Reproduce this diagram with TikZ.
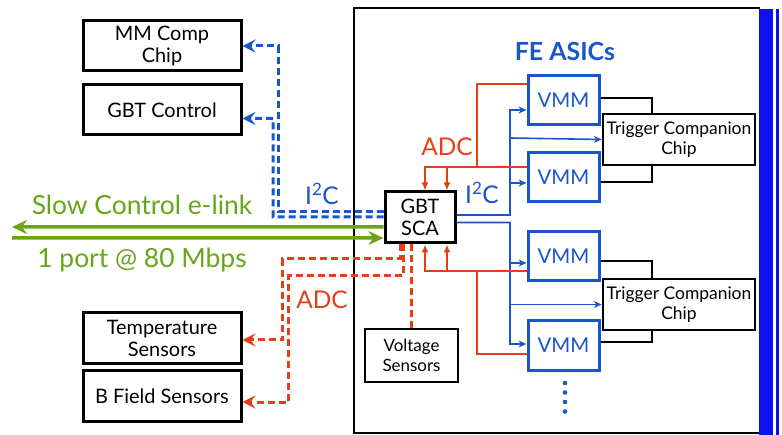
\documentclass[tikz,border=0pt]{standalone}
\usepackage{fontspec}
\setmainfont{Lato}
\usetikzlibrary{arrows.meta}
\definecolor{fblue}{RGB}{25,85,205}
\definecolor{fred}{RGB}{232,62,22}
\definecolor{fgreen}{RGB}{105,165,25}
\definecolor{fbar}{RGB}{15,15,240}
\begin{document}
\begin{tikzpicture}[x=1bp, y=-1bp,
  box/.style={draw, line width=3bp, align=center, inner sep=0pt,
    minimum width=158bp, minimum height=50bp, font=\fontsize{20}{22}\selectfont},
  vmm/.style={draw=fblue, line width=3bp, text=fblue, inner sep=0pt,
    minimum width=71bp, minimum height=49bp, font=\fontsize{20.5}{22}\selectfont},
  tcc/.style={draw, line width=2.5bp, align=center, inner sep=0pt,
    minimum width=152bp, minimum height=51bp, font=\fontsize{17.5}{20}\selectfont},
  link/.style={line width=2.2bp},
  i2c/.style={fblue, line width=1.6bp, -{Stealth[length=8bp,width=7bp]}},
  adc/.style={fred, line width=1.6bp, -{Latex[length=8bp,width=7bp]}},
  i2cd/.style={fblue, line width=3bp, dash pattern=on 7bp off 4bp,
    -{Stealth[length=13bp,width=13bp,inset=5bp]}},
  adcd/.style={fred, line width=3bp, dash pattern=on 7bp off 4bp,
    -{Stealth[length=13bp,width=13bp,inset=5bp]}},
  elink/.style={fgreen, line width=3.5bp, -{Stealth[length=15bp,width=14bp,inset=5bp]}},
  lbl/.style={font=\fontsize{24.5}{26}\selectfont}]
\useasboundingbox (0,0) rectangle (782,435);
% front-end board
\draw[line width=2.5bp] (760,8) -- (354,8) -- (354,433) -- (760,433);
\fill[fbar] (759,9) rectangle (773,435);
\draw[fbar, line width=3bp] (777.5,9) -- (777.5,435);
\node[fblue, font=\bfseries\fontsize{25}{27}\selectfont] (fe) at (565,52) {FE ASICs};
% off-board boxes
\node[box] (mm)     at (162,46)  {MM Comp\\Chip};
\node[box] (gbtc)   at (162,110) {GBT Control};
\node[box] (temp)   at (162,338) {Temperature\\Sensors};
\node[box] (bfield) at (162,396) {B Field Sensors};
% on-board boxes
\node[box, minimum width=70bp, minimum height=51bp] (sca) at (420,217.5) {GBT\\SCA};
\node[box, line width=2.5bp, minimum width=93bp, minimum height=53bp,
  font=\fontsize{17}{20}\selectfont] (volt) at (411.5,355.5) {Voltage\\Sensors};
\node[vmm] (v1) at (563.5,100.5) {VMM};
\node[vmm] (v2) at (563.5,177.5) {VMM};
\node[vmm] (v3) at (563.5,256.5) {VMM};
\node[vmm] (v4) at (563.5,345.5) {VMM};
\node[tcc] (t1) at (679,139.5) {Trigger Companion\\Chip};
\node[tcc] (t2) at (679,304.5) {Trigger Companion\\Chip};
\foreach \y in {383,392.5,402,411.5}
  \fill[fblue] (565,\y) circle (2.3bp);
% VMM to trigger companion
\draw[link] ([yshift=2.5bp]v1.east)  -| ([xshift=-27bp]t1.north);
\draw[link] ([yshift=-4.5bp]v2.east) -| ([xshift=-27bp]t1.south);
\draw[link] ([yshift=-4.5bp]v3.east) -| ([xshift=-27bp]t2.north);
\draw[link] ([yshift=3.5bp]v4.east)  -| ([xshift=-27bp]t2.south);
% I2C on board
\coordinate (iu) at (510,215);
\coordinate (id) at (510,222.5);
\draw[i2c] ([yshift=2.5bp]sca.east) -- (iu) |- ([yshift=-9.5bp]v1.west);
\draw[i2c] (510,183) -- ([yshift=-5.5bp]v2.west);
\draw[i2c] (510,138) -- (t1.west);
\draw[i2c] ([yshift=-5bp]sca.east) -- (id) |- ([yshift=1.5bp]v4.west);
\draw[i2c] (510,263) -- ([yshift=-6.5bp]v3.west);
\draw[i2c] (510,304.5) -- (t2.west);
\node[fblue, lbl] (i2cr) at (482,193) {I\textsuperscript{2}C};
% ADC on board
\draw[adc] ([yshift=10.5bp]v2.west) -| ([xshift=5bp]sca.north);
\draw[adc] (447,167) -- ([xshift=27bp]sca.north);
\draw[fred, line width=1.6bp] ([yshift=16.5bp]v1.west) -| (477,167);
\draw[adc] ([yshift=-14.5bp]v3.west) -| ([xshift=5bp]sca.south);
\draw[adc] (447,271) -- ([xshift=27bp]sca.south);
\draw[fred, line width=1.6bp] ([yshift=-8.5bp]v4.west) -| (477,271);
\node[fred, lbl] (adcr) at (447,147) {ADC};
% I2C off board
\draw[i2cd] ([yshift=6bp]sca.west) -| (278,46) -- (mm.east);
\draw[i2cd] ([yshift=0.5bp]sca.west) -| (273,118.5) -- ([yshift=-8.5bp]gbtc.east);
\node[fblue, lbl] (i2cl) at (322,194) {I\textsuperscript{2}C};
% ADC off board
\draw[adcd] ([xshift=-20bp]sca.south) |- (282,259) |- ([yshift=-2bp]temp.east);
\draw[adcd] ([xshift=-17bp]sca.south) |- (288,276) |- ([yshift=-6bp]bfield.east);
\draw[fred, line width=3bp, dash pattern=on 7bp off 4bp] (volt.north) -- (volt.north |- sca.south);
\node[fred, lbl] (adcl) at (322,300) {ADC};
% slow control e-link
\coordinate (el1) at (12,227);
\coordinate (el2) at (12,238);
\draw[elink] ([yshift=-9.5bp]sca.west) -- (el1);
\draw[elink] (el2) -- ([yshift=-20.5bp]sca.west);
\node[fgreen, font=\fontsize{26.5}{28}\selectfont] (sc) at (142,205) {Slow Control e-link};
\node[fgreen, font=\fontsize{26.5}{28}\selectfont] (port) at (142,260) {1 port @ 80 Mbps};
\end{tikzpicture}
\end{document}
